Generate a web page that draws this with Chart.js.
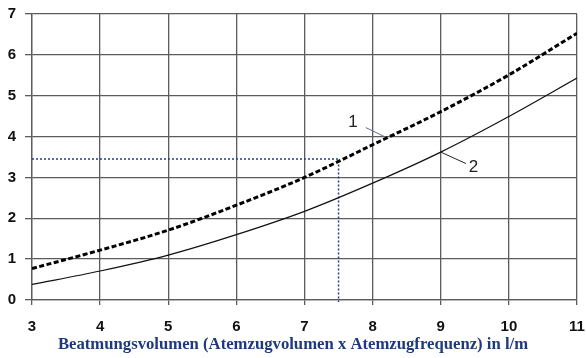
<!DOCTYPE html>
<html>
<head>
<meta charset="utf-8">
<script src="https://cdn.jsdelivr.net/npm/chart.js@4"></script>
<style>
  html, body { margin: 0; padding: 0; background: #fff; }
  #wrap { width: 586px; height: 358px; }
</style>
</head>
<body>
<div id="wrap"><canvas id="chart" width="586" height="358"></canvas></div>
<script>
// Beatmungsvolumen in l/m
const volumes = [3, 4, 5, 6, 7, 8, 9, 10, 11];
// curve 1 (thick dashed) and curve 2 (thin solid)
const curve1 = [0.77, 1.22, 1.71, 2.32, 3.0, 3.8, 4.61, 5.51, 6.53];
const curve2 = [0.38, 0.71, 1.10, 1.60, 2.17, 2.86, 3.62, 4.49, 5.43];

// dotted read-off guide at 7.5 l/m
const guideX = [3, 7.5, 7.5];
const guideY = [3.45, 3.45, -0.05];

// curve labels and their leader lines
const labelText = ['1', '2'];
const labelX = [7.71, 9.48];
const labelY = [4.35, 3.25];
const leader1X = [7.9, 8.21];
const leader1Y = [4.22, 3.97];
const leader2X = [9.0, 9.37];
const leader2Y = [3.62, 3.34];

const xTitle = 'Beatmungsvolumen (Atemzugvolumen x Atemzugfrequenz) in l/m';

const toPoints = (xs, ys) => xs.map((x, i) => ({ x: x, y: ys[i] }));

Chart.defaults.font.family = '"Liberation Sans", Arial, sans-serif';
Chart.defaults.font.weight = 'bold';
Chart.defaults.font.size = 15;

const labelPlugin = {
    id: 'curveLabels',
    afterDatasetsDraw(chart) {
        const { ctx, scales } = chart;
        ctx.save();
        ctx.fillStyle = '#222';
        ctx.font = '17px "Liberation Sans", Arial, sans-serif';
        ctx.textAlign = 'center';
        ctx.textBaseline = 'middle';
        labelText.forEach((t, i) => {
            ctx.fillText(t, scales.x.getPixelForValue(labelX[i]), scales.y.getPixelForValue(labelY[i]));
        });
        // axis title, centred on the whole picture like the original
        ctx.fillStyle = '#1f3a7a';
        ctx.font = 'bold 16.7px "Liberation Serif", "Times New Roman", serif';
        ctx.fillText(xTitle, chart.width / 2, 345);
        ctx.restore();
    }
};

const noPad = scale => {
    scale.paddingLeft = 0;
    scale.paddingRight = 0;
    scale.paddingTop = 0;
    scale.paddingBottom = 0;
};

new Chart(document.getElementById('chart'), {
    type: 'line',
    data: {
        datasets: [
            {
                data: toPoints(volumes, curve1),
                borderColor: '#000',
                borderWidth: 3,
                borderDash: [5, 2.5],
                cubicInterpolationMode: 'monotone',
                pointRadius: 0
            },
            {
                data: toPoints(volumes, curve2),
                borderColor: '#111',
                borderWidth: 1.2,
                cubicInterpolationMode: 'monotone',
                pointRadius: 0
            },
            {
                data: toPoints(guideX, guideY),
                borderColor: '#1f3f8f',
                borderWidth: 1.5,
                borderDash: [2, 2],
                tension: 0,
                pointRadius: 0,
                clip: false
            },
            {
                data: toPoints(leader1X, leader1Y),
                borderColor: '#5a6a9a',
                borderWidth: 1,
                tension: 0,
                pointRadius: 0
            },
            {
                data: toPoints(leader2X, leader2Y),
                borderColor: '#222',
                borderWidth: 1,
                tension: 0,
                pointRadius: 0
            }
        ]
    },
    options: {
        responsive: false,
        animation: false,
        layout: { padding: { top: 14, right: 9, left: 0, bottom: 4 } },
        plugins: { legend: { display: false }, tooltip: { enabled: false } },
        scales: {
            x: {
                type: 'linear',
                min: 3,
                max: 11,
                ticks: { stepSize: 1, color: '#111', padding: 13 },
                grid: { color: '#5c5c5c', lineWidth: 1.3, tickLength: 5 },
                border: { color: '#5c5c5c', width: 1.3 },
                afterFit(scale) { scale.height = 54; noPad(scale); }
            },
            y: {
                min: 0,
                max: 7,
                ticks: { stepSize: 1, color: '#111', padding: 9 },
                grid: { color: '#5c5c5c', lineWidth: 1.3, tickLength: 7 },
                border: { color: '#5c5c5c', width: 1.3 },
                afterFit(scale) { scale.width = 32; noPad(scale); }
            }
        }
    },
    plugins: [labelPlugin]
});
</script>
</body>
</html>
